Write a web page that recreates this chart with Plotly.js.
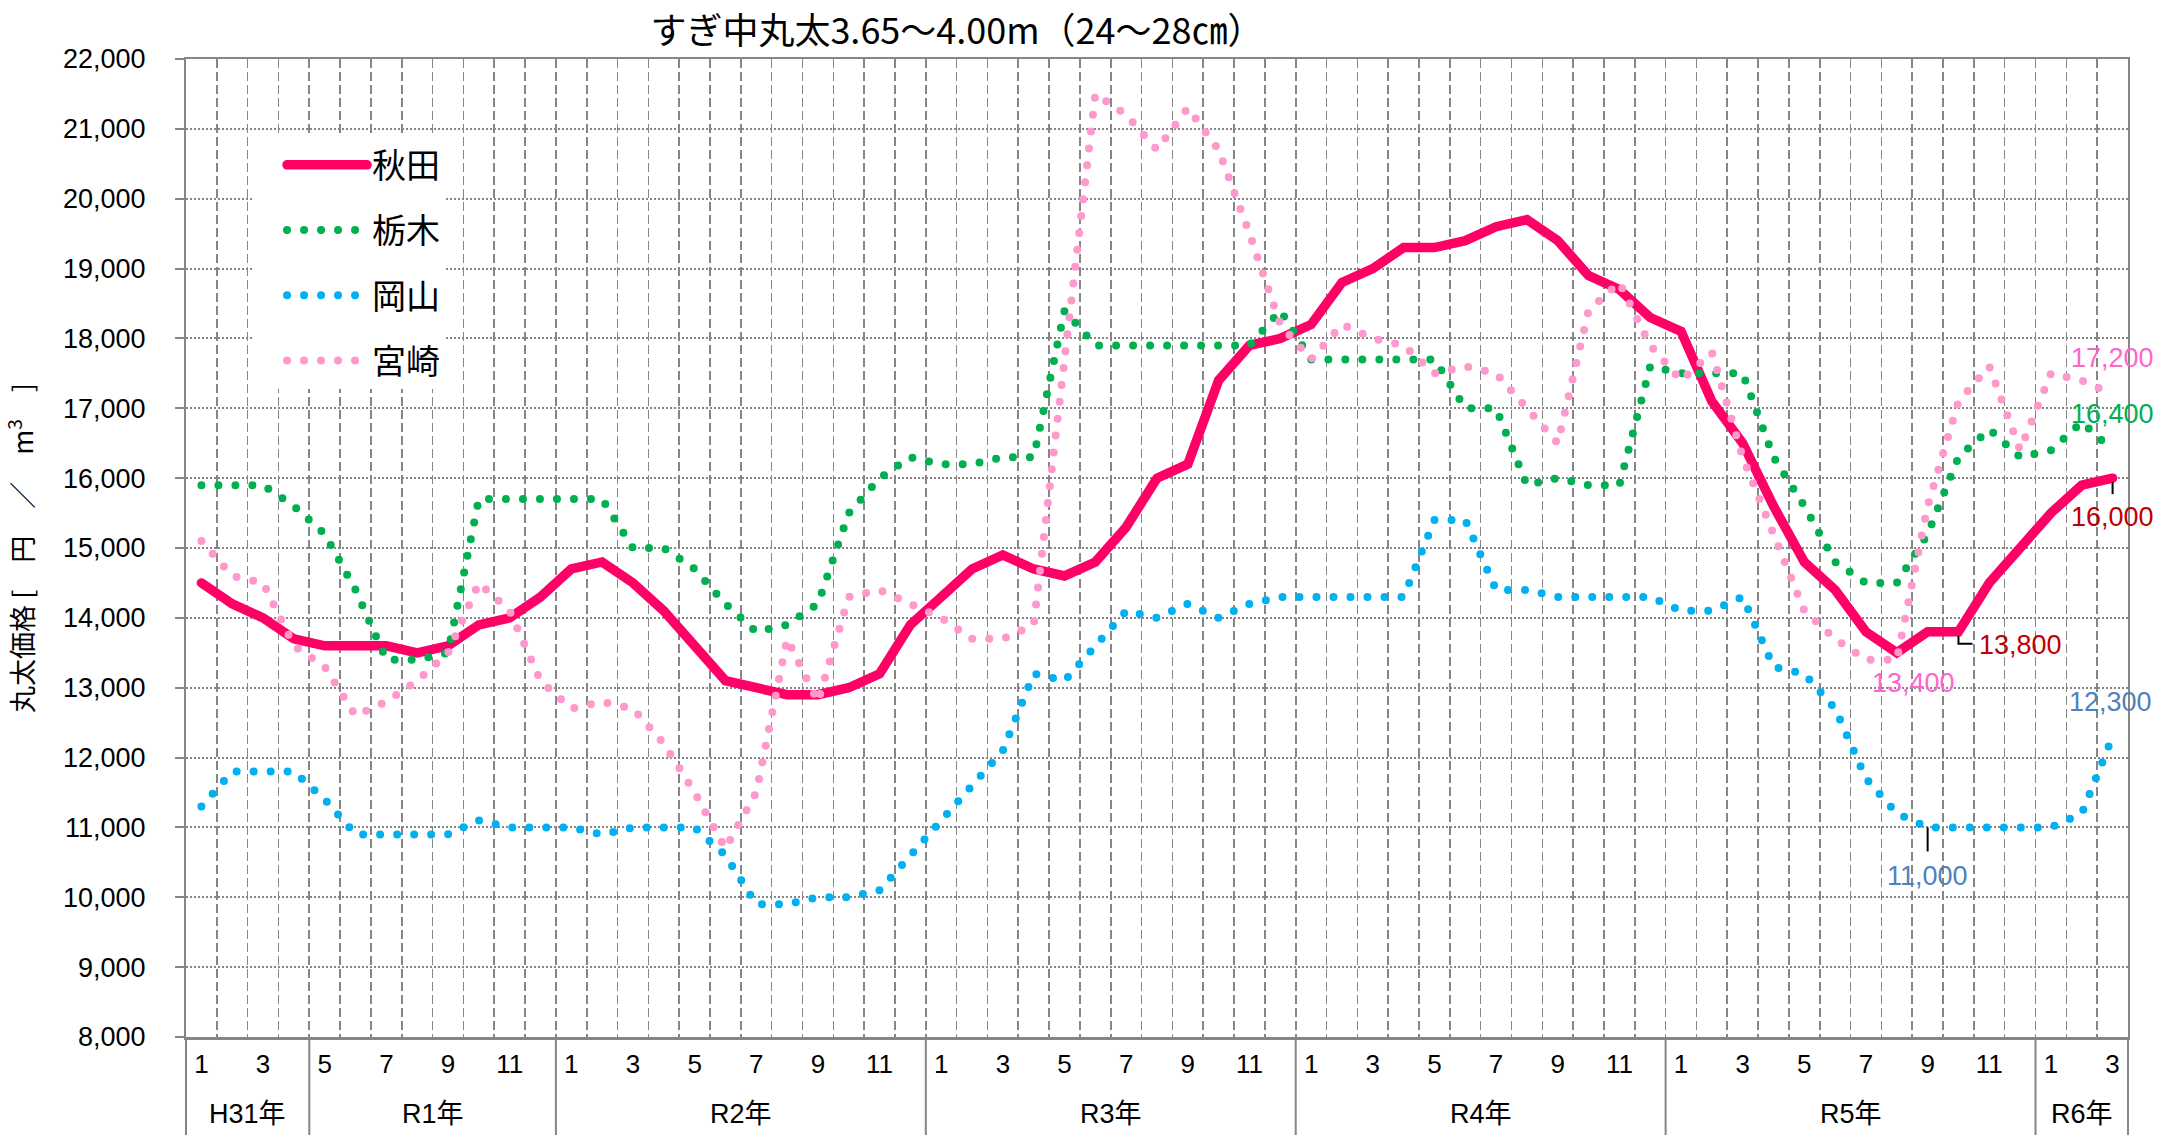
<!DOCTYPE html>
<html>
<head>
<meta charset="utf-8">
<script src="https://cdn.plot.ly/plotly-3.0.1.min.js"></script>
<style>
html, body { margin: 0; padding: 0; background: #ffffff; }
#chart { width: 2179px; height: 1144px; }
.js-line { stroke-linecap: round !important; }
</style>
</head>
<body>
<div id="chart"></div>
<script>
// ---- categories ----
const yearLabels = ["H31年", "R1年", "R2年", "R3年", "R4年", "R5年", "R6年"];
const yearMonthCounts = [4, 8, 12, 12, 12, 12, 3];
const months = [
  1, 2, 3, 4,
  5, 6, 7, 8, 9, 10, 11, 12,
  1, 2, 3, 4, 5, 6, 7, 8, 9, 10, 11, 12,
  1, 2, 3, 4, 5, 6, 7, 8, 9, 10, 11, 12,
  1, 2, 3, 4, 5, 6, 7, 8, 9, 10, 11, 12,
  1, 2, 3, 4, 5, 6, 7, 8, 9, 10, 11, 12,
  1, 2, 3
];

// ---- series (円/m3) ----
const akita = [
  14500, 14200, 14000, 13700,
  13600, 13600, 13600, 13500, 13600, 13900, 14000, 14300,
  14700, 14800, 14500, 14100, 13600, 13100, 13000, 12900, 12900, 13000, 13200, 13900,
  14300, 14700, 14900, 14700, 14600, 14800, 15300, 16000, 16200, 17400, 17900, 18000,
  18200, 18800, 19000, 19300, 19300, 19400, 19600, 19700, 19400, 18900, 18700, 18300,
  18100, 17100, 16500, 15600, 14800, 14400, 13800, 13500, 13800, 13800, 14500, 15000,
  15500, 15900, 16000
];
const tochigi = [
  15900, 15900, 15900, 15600,
  15200, 14400, 13400, 13400, 13500, 15700, 15700, 15700,
  15700, 15700, 15000, 15000, 14700, 14200, 13800, 13900, 14200, 15500, 16000, 16300,
  16200, 16200, 16300, 16300, 18400, 17900, 17900, 17900, 17900, 17900, 17900, 18400,
  17700, 17700, 17700, 17700, 17700, 17000, 17000, 15900, 16000, 15900, 15900, 17600,
  17500, 17500, 17500, 16300, 15600, 14800, 14500, 14500, 15200, 16300, 16700, 16300,
  16400, 16800, 16400
];
const okayama = [
  11300, 11800, 11800, 11800,
  11400, 10900, 10900, 10900, 10900, 11100, 11000, 11000,
  11000, 10900, 11000, 11000, 11000, 10600, 9900, 9900, 10000, 10000, 10100, 10600,
  11100, 11600, 12100, 13200, 13100, 13600, 14100, 14000, 14200, 14000, 14200, 14300,
  14300, 14300, 14300, 14300, 15400, 15400, 14400, 14400, 14300, 14300, 14300, 14300,
  14100, 14100, 14300, 13300, 13200, 12700, 11700, 11200, 11000, 11000, 11000, 11000,
  11000, 11200, 12300
];
const miyazaki = [
  15100, 14600, 14500, 13600,
  13300, 12600, 12800, 13100, 13500, 14500, 14100, 13100,
  12700, 12800, 12700, 12200, 11500, 10700, 11500, 13700, 12800, 14300, 14400, 14200,
  14000, 13700, 13700, 13900, 17800, 21500, 21200, 20700, 21300, 20700, 19500, 18200,
  17700, 18200, 18000, 17900, 17500, 17600, 17500, 17000, 16500, 18400, 18800, 17900,
  17400, 17800, 16300, 15200, 14100, 13700, 13400, 13400, 15600, 17100, 17600, 16400,
  17500, 17400, 17200
];

// ---- build ----
const N = months.length;
const xs = months.map((m, i) => i);
const fmt = v => v.toLocaleString('en-US');
const DOT = '0px,17px';
const GREY = '#868686';
const LATIN = 'Liberation Sans, Arial, Noto Sans CJK JP, sans-serif';
const CJK = 'Noto Sans CJK JP, sans-serif';

const traces = [
  { name: '秋田', y: akita, line: { color: '#FF0066', width: 9.5 }, legendgroup: 'g1' },
  { name: '栃木', y: tochigi, line: { color: '#00B050', width: 8, dash: DOT }, legendgroup: 'g2' },
  { name: '岡山', y: okayama, line: { color: '#00B0F0', width: 8, dash: DOT }, legendgroup: 'g3' },
  { name: '宮崎', y: miyazaki, line: { color: '#FF99CC', width: 8, dash: DOT }, legendgroup: 'g4' }
].map(t => Object.assign({ x: xs, type: 'scatter', mode: 'lines', hoverinfo: 'skip' }, t));

const tickvals = xs.filter(i => months[i] % 2 === 1);
const ticktext = tickvals.map(i => String(months[i]));

// year blocks
const shapes = [];
const annotations = [];
let start = 0;
const bounds = [0];
yearLabels.forEach((lab, k) => {
  const cnt = yearMonthCounts[k];
  annotations.push({
    x: start + cnt / 2 - 0.5, xref: 'x', y: 0, yref: 'paper', yshift: -77,
    yanchor: 'middle', xanchor: 'center', showarrow: false, text: lab,
    font: { family: LATIN, size: 27, color: '#000' }
  });
  start += cnt;
  bounds.push(start);
});
bounds.forEach(b => {
  shapes.push({
    type: 'line', xref: 'paper', yref: 'paper', x0: b / N, x1: b / N, y0: 0, y1: -0.1002,
    line: { color: GREY, width: 2 }, layer: 'above'
  });
});

// value labels (text from data)
const lab = (x, y, text, color, xshift, yshift) => annotations.push({
  x: x, y: y, xref: 'x', yref: 'y', text: text, showarrow: false,
  xshift: xshift, yshift: yshift, xanchor: 'center', yanchor: 'middle',
  font: { family: LATIN, size: 27, color: color }
});
const last = N - 1;
lab(last, miyazaki[last], fmt(miyazaki[last]), '#FF66CC', 0, 36);
lab(last, tochigi[last], fmt(tochigi[last]), '#00B050', 0, 36);
lab(last, akita[last], fmt(akita[last]), '#C00000', 0, -39);
lab(last, okayama[last], fmt(okayama[last]), '#4F81BD', -2, 35);
lab(57, akita[57], fmt(akita[57]), '#C00000', 62, -13);
lab(55, miyazaki[55], fmt(miyazaki[55]), '#FF66CC', 17, -23);
lab(56, okayama[56], fmt(okayama[56]), '#4F81BD', 0, -49);

// leader lines
const leader = (x, y, path) => shapes.push({
  type: 'path', xref: 'x', yref: 'y', xsizemode: 'pixel', ysizemode: 'pixel',
  xanchor: x, yanchor: y, path: path, line: { color: '#000', width: 2 }, layer: 'above'
});
leader(last, akita[last], 'M0,-4L0,-16');
leader(57, akita[57], 'M0,-4L0,-12L14,-12');
leader(56, okayama[56], 'M0,0L0,-24');

const layout = {
  width: 2179, height: 1144,
  paper_bgcolor: '#ffffff', plot_bgcolor: '#ffffff',
  margin: { l: 186, r: 51, t: 59, b: 107, autoexpand: false },
  title: {
    text: 'すぎ中丸太3.65～4.00m（24～28㎝）',
    font: { family: CJK, size: 36, color: '#000' },
    x: 0.397, xref: 'paper', xanchor: 'center',
    y: 1 - 31 / 1144, yref: 'container', yanchor: 'middle'
  },
  showlegend: true,
  legend: {
    x: 0.034, y: 0.921, xanchor: 'left', yanchor: 'top',
    bgcolor: '#ffffff', borderwidth: 0,
    font: { family: CJK, size: 34, color: '#000' },
    tracegroupgap: 18, itemwidth: 80, indentation: 30, traceorder: 'grouped'
  },
  xaxis: {
    range: [-0.5, N - 0.5], autorange: false, fixedrange: true,
    tickmode: 'array', tickvals: tickvals, ticktext: ticktext,
    ticks: '', showgrid: false, zeroline: false,
    showline: true, linecolor: GREY, linewidth: 2.5, mirror: true,
    tickfont: { family: LATIN, size: 26, color: '#000' },
    ticklabelstandoff: 2,
    minor: { tick0: -0.5, dtick: 1, showgrid: true, gridcolor: GREY, gridwidth: 1.6, griddash: '9px,4px', ticks: '' }
  },
  yaxis: {
    range: [8000, 22000], autorange: false, fixedrange: true,
    tickmode: 'linear', tick0: 8000, dtick: 1000, tickformat: ',d',
    ticks: 'outside', ticklen: 9, tickwidth: 2, tickcolor: GREY,
    showgrid: true, gridcolor: GREY, gridwidth: 2, griddash: '2px,2px',
    zeroline: false, showline: true, linecolor: GREY, linewidth: 2, mirror: true,
    tickfont: { family: LATIN, size: 27, color: '#000' },
    ticklabelstandoff: 24,
    title: {
      text: '丸太価格 [　円　／　m<sup>3</sup>　]',
      font: { family: CJK, size: 27, color: '#000' },
      standoff: 42
    }
  },
  shapes: shapes,
  annotations: annotations
};

Plotly.newPlot('chart', traces, layout, { staticPlot: true, displayModeBar: false });
</script>
</body>
</html>
